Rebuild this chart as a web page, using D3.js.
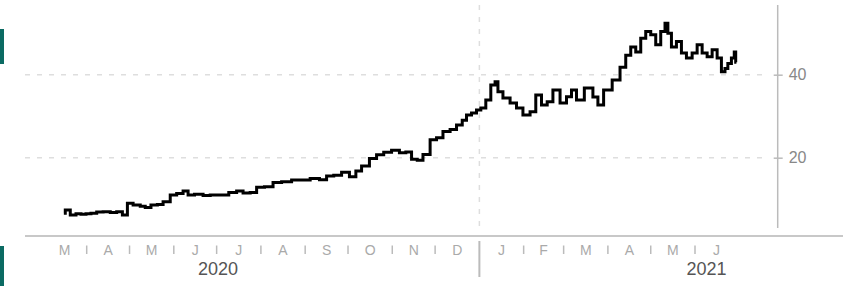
<!DOCTYPE html>
<html><head><meta charset="utf-8">
<script src="https://cdn.jsdelivr.net/npm/d3@7"></script>
<style>
html,body{margin:0;padding:0;background:#fff;}
svg{display:block;font-family:"Liberation Sans",Arial,sans-serif;}
</style></head>
<body><svg id="c" width="854" height="286"></svg>
<script>
// ---- data ----
const dates = ["2020-03-16","2020-03-18","2020-03-23","2020-03-26","2020-03-30","2020-04-02","2020-04-06","2020-04-10","2020-04-15","2020-04-20","2020-04-24","2020-04-28","2020-05-01","2020-05-06","2020-05-11","2020-05-13","2020-05-19","2020-05-22","2020-05-27","2020-06-01","2020-06-05","2020-06-10","2020-06-12","2020-06-19","2020-06-24","2020-06-29","2020-07-06","2020-07-13","2020-07-17","2020-07-22","2020-07-27","2020-07-31","2020-08-07","2020-08-12","2020-08-19","2020-08-26","2020-09-01","2020-09-08","2020-09-14","2020-09-18","2020-09-24","2020-09-29","2020-10-05","2020-10-08","2020-10-13","2020-10-19","2020-10-23","2020-10-29","2020-11-03","2020-11-09","2020-11-12","2020-11-17","2020-11-20","2020-11-25","2020-11-30","2020-12-04","2020-12-09","2020-12-14","2020-12-18","2020-12-22","2020-12-24","2020-12-29","2020-12-31","2021-01-04","2021-01-07","2021-01-11","2021-01-13","2021-01-15","2021-01-20","2021-01-25","2021-01-29","2021-02-03","2021-02-08","2021-02-11","2021-02-16","2021-02-19","2021-02-24","2021-03-01","2021-03-05","2021-03-08","2021-03-12","2021-03-19","2021-03-24","2021-03-26","2021-04-01","2021-04-07","2021-04-12","2021-04-15","2021-04-19","2021-04-22","2021-04-26","2021-04-29","2021-05-03","2021-05-06","2021-05-10","2021-05-12","2021-05-14","2021-05-17","2021-05-21","2021-05-24","2021-05-28","2021-06-01","2021-06-04","2021-06-08","2021-06-11","2021-06-15","2021-06-18","2021-06-21","2021-06-23","2021-06-25","2021-06-28","2021-06-29","2021-06-30"];
const prices = [6.6,7.4,6.2,6.5,6.4,6.5,6.6,6.9,7.0,6.8,7.0,6.2,9.0,8.6,8.3,8.0,8.6,8.7,9.4,11.0,11.4,12.0,11.0,11.2,10.9,11.0,11.0,11.6,12.0,11.5,11.6,12.9,13.0,14.0,14.2,14.6,14.6,15.0,14.7,15.6,15.8,16.5,15.4,16.8,18.0,19.8,20.7,21.3,21.8,21.2,21.4,19.6,19.4,20.8,24.3,24.8,26.3,26.8,27.9,29.0,30.3,30.8,31.5,32.0,33.9,37.5,38.3,35.9,34.4,33.2,32.0,30.3,31.1,35.1,32.7,33.5,36.3,33.2,34.7,36.3,33.9,36.8,34.6,32.7,36.3,38.7,41.8,44.7,46.7,45.5,48.8,50.4,49.6,47.2,50.4,52.4,50.0,46.7,48.0,45.2,44.0,45.2,47.2,45.2,44.3,46.0,44.0,40.7,41.5,42.7,44.0,45.5,43.0];
const yTicks = [20, 40];
const monthLabels = ["M","A","M","J","J","A","S","O","N","D","J","F","M","A","M","J"];
const monthStarts = ["2020-03-01","2020-04-01","2020-05-01","2020-06-01","2020-07-01","2020-08-01","2020-09-01","2020-10-01","2020-11-01","2020-12-01","2021-01-01","2021-02-01","2021-03-01","2021-04-01","2021-05-01","2021-06-01","2021-07-01"];
const years = ["2020","2021"];
const yearLabelDates = ["2020-07-02","2021-06-09"];
const yearBreak = "2021-01-01";

// ---- drawing ----
const P = d3.timeParse("%Y-%m-%d");
const svg = d3.select("#c");
const x = d3.scaleTime().domain([P("2020-04-01"), P("2021-06-01")]).range([86.7, 695]);
const y = d3.scaleLinear().domain([0, 40]).range([240.7, 74.7]);

// side decorations
svg.append("rect").attr("x",0).attr("y",29).attr("width",4).attr("height",35).attr("fill","#0b6b63");
svg.append("rect").attr("x",0).attr("y",246).attr("width",4).attr("height",40).attr("fill","#0b6b63");

// gridlines
svg.append("g").selectAll("line").data(yTicks).join("line")
  .attr("x1",25).attr("x2",768).attr("y1",d=>y(d)).attr("y2",d=>y(d))
  .attr("stroke","#dedede").attr("stroke-width",1.5).attr("stroke-dasharray","5,7");

// year break dashed line
const xb = x(P(yearBreak));
svg.append("line").attr("x1",xb).attr("x2",xb).attr("y1",5).attr("y2",228)
  .attr("stroke","#dedede").attr("stroke-width",1.5).attr("stroke-dasharray","5,7");

// right axis
const ax = svg.append("g").attr("transform","translate(777.7,0)")
  .call(d3.axisRight(y).tickValues(yTicks).tickSize(5).tickPadding(6).tickFormat(d3.format("d")));
ax.select(".domain").remove();
ax.selectAll(".tick line").attr("x1",-4).attr("x2",5).attr("stroke","#bbb").attr("stroke-width",1.5);
ax.selectAll(".tick text").attr("fill","#888").attr("font-size",16).attr("font-family","Liberation Sans, Arial, sans-serif");
svg.append("line").attr("x1",777.7).attr("x2",777.7).attr("y1",5).attr("y2",228)
  .attr("stroke","#bbb").attr("stroke-width",1.5);

// x axis baseline
svg.append("line").attr("x1",25).attr("x2",843).attr("y1",236).attr("y2",236)
  .attr("stroke","#c8c8c8").attr("stroke-width",2);

// month separators
const ms = monthStarts.map(P);
svg.append("g").selectAll("line").data(ms.slice(1, ms.length-1)).join("line")
  .attr("x1",d=>x(d)).attr("x2",d=>x(d))
  .attr("y1",d=>+d===+P(yearBreak)?241:245.5).attr("y2",d=>+d===+P(yearBreak)?277:254)
  .attr("stroke","#bbb").attr("stroke-width",d=>+d===+P(yearBreak)?2:1.5);

// month labels
svg.append("g").selectAll("text").data(monthLabels).join("text")
  .attr("x",(d,i)=>(x(ms[i])+x(ms[i+1]))/2).attr("y",254.5)
  .attr("text-anchor","middle").attr("font-size",14).attr("fill","#aaa").text(d=>d);

// year labels
svg.append("g").selectAll("text").data(years).join("text")
  .attr("x",(d,i)=>x(P(yearLabelDates[i]))).attr("y",275)
  .attr("text-anchor","middle").attr("font-size",18).attr("fill","#555").text(d=>d);

// price line
const data = dates.map((d,i)=>({d:P(d), v:prices[i]}));
svg.append("path").datum(data)
  .attr("d", d3.line().curve(d3.curveStep).x(d=>x(d.d)).y(d=>y(d.v)))
  .attr("fill","none").attr("stroke","#000").attr("stroke-width",3).attr("stroke-linejoin","miter");
</script></body></html>
